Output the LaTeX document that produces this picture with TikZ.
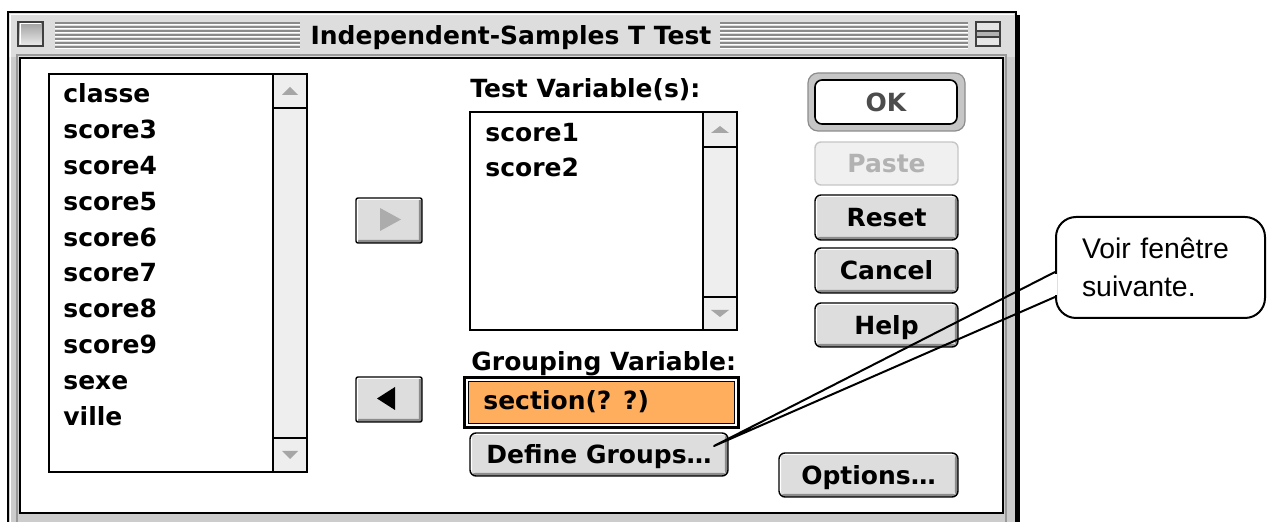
\documentclass[tikz,border=0pt]{standalone}
\usepackage{fontspec}
\newfontfamily\uifamily{DejaVu Sans}
\newfontfamily\notefamily{Liberation Sans}
\usetikzlibrary{calc}
\definecolor{framegray}{HTML}{CCCCCC}
\definecolor{titlegray}{HTML}{DDDDDD}
\definecolor{btngray}{HTML}{DDDDDD}
\definecolor{btnshade}{HTML}{8C8C8C}
\definecolor{scrollgray}{HTML}{EEEEEE}
\definecolor{grouporange}{HTML}{FFAE5E}
\definecolor{stripegray}{HTML}{8A8A8A}
\tikzset{
  bw/.style={minimum width=#1*0.5pt},
  bh/.style={minimum height=#1*0.5pt},
  uifont/.style={font=\uifamily\fontsize{12.5pt}{15pt}\selectfont\bfseries},
  listitem/.style={uifont, anchor=base west, inner sep=0pt},
  listbox/.style={draw=black, line width=0.7pt, fill=white, inner sep=0pt},
  listline/.style={draw=black, line width=0.7pt},
  bevel/.style={path picture={
      \fill[btnshade] ([yshift=1.6pt]path picture bounding box.south west) rectangle (path picture bounding box.south east);
      \fill[btnshade] ([xshift=-1.6pt]path picture bounding box.south east) rectangle (path picture bounding box.north east);
      \fill[white] ([yshift=-1pt]path picture bounding box.north west) rectangle (path picture bounding box.north east);
      \fill[white] ([xshift=1pt]path picture bounding box.north west) rectangle (path picture bounding box.south west);
  }},
  macbtn/.style={draw=black, line width=0.7pt, fill=btngray, rounded corners=3pt, inner sep=0pt,
      uifont, text height=9.1pt, text depth=0pt, bevel},
  arrowbtn/.style={macbtn, rounded corners=1pt},
  notebox/.style={draw=black, line width=1pt, fill=white, rounded corners=10pt, align=left,
      text width=78.5pt, inner xsep=13pt, inner ysep=0pt,
      font=\notefamily\fontsize{14.2pt}{19pt}\selectfont},
  pointer/.style={draw=black, line width=1pt, line join=round},
}
\begin{document}
\begin{tikzpicture}[x=0.5pt,y=-0.5pt]
\useasboundingbox (0,0) rectangle (1268,522);
\clip (0,0) rectangle (1268,522);
\fill[white] (0,0) rectangle (1268,522);

% ---- window frame
\fill[framegray] (8,12) rectangle (1016,540);
\fill[titlegray] (9,13) rectangle (1015,57);
\draw[white, line width=0.6pt] (10.5,540) -- (10.5,14.5) -- (1013.5,14.5);
\draw[gray!80, line width=0.8pt] (17,540) -- (17,55) -- (1006,55) -- (1006,540);
\draw[black, line width=0.75pt] (8,540) -- (8,12) -- (1016,12) -- (1016,540);
\draw[black, line width=1.2pt] (1018.5,15) -- (1018.5,540);
\draw[black, line width=0.75pt, fill=white] (20,58) rectangle (1003,513);

% ---- title bar
\draw[black!75, line width=0.6pt, top color=gray!75, bottom color=gray!15] (18,22) rectangle (43,46);
\draw[white, line width=0.5pt] (20,44) -- (20,24) -- (41,24);
\foreach \yy in {23,27,...,47} {
  \draw[stripegray, line width=0.6pt] (55,\yy) -- (300,\yy);
  \draw[white, line width=0.6pt] (55,\yy+1.5) -- (300,\yy+1.5);
  \draw[stripegray, line width=0.6pt] (720,\yy) -- (968,\yy);
  \draw[white, line width=0.6pt] (720,\yy+1.5) -- (968,\yy+1.5);
}
\draw[black!75, line width=0.6pt, fill=gray!20] (976,22) rectangle (1000,46);
\draw[black!75, line width=0.6pt, fill=gray!60] (976,31) rectangle (1000,37);
\node[uifont, anchor=base, inner sep=0pt] (title) at (511,45) {Independent-Samples T Test};

% ---- source variable list
\node[listbox, bw=258, bh=398] (varlist) at (178,273) {};
\draw[listline, fill=scrollgray] (273,74) rectangle (307,472);
\draw[listline] (273,108) -- (307,108) (273,438) -- (307,438);
\fill[gray!70] (282,95) -- (298,95) -- (290,87) -- cycle;
\fill[gray!70] (282,451) -- (298,451) -- (290,459) -- cycle;
\foreach \t [count=\i from 0] in {classe,score3,score4,score5,score6,score7,score8,score9,sexe,ville}
  \node[listitem] (item\i) at (63,{102.5+35.9*\i}) {\t};

% ---- transfer buttons
\node[arrowbtn, bw=66, bh=45] (moveright) at (389,220.5) {};
\fill[gray!65] (380,208) -- (401,219.5) -- (380,231) -- cycle;
\node[arrowbtn, bw=66, bh=45] (moveleft) at (389,399.5) {};
\fill[black] (395,387) -- (377,398.5) -- (395,410) -- cycle;

% ---- test variables
\node[listitem] (testlabel) at (470,98) {Test Variable(s):};
\node[listbox, bw=267, bh=218] (testlist) at (603.5,221) {};
\draw[listline, fill=scrollgray] (703,112) rectangle (737,330);
\draw[listline] (703,147) -- (737,147) (703,297) -- (737,297);
\fill[gray!70] (711,133) -- (729,133) -- (720,126) -- cycle;
\fill[gray!70] (711,310) -- (729,310) -- (720,317) -- cycle;
\node[listitem] (score1) at (485,141.7) {score1};
\node[listitem] (score2) at (485,176.7) {score2};

% ---- grouping variable
\node[listitem] (grplabel) at (471,370.7) {Grouping Variable:};
\node[draw=black, line width=1.5pt, fill=white, bw=274, bh=50, inner sep=0pt] (grpframe) at (601.5,402.5) {};
\node[draw=black, line width=0.6pt, fill=grouporange, bw=266, bh=42, inner sep=0pt] (grpvar) at (601.5,402.5) {};
\node[listitem] (section) at (483,410) {section(? ?)};
\node[macbtn, bw=258, bh=43] (defgrp) at (599,454.5) {Define Groups…};

% ---- right-hand buttons
\node[draw=black!45, fill=gray!45, line width=0.6pt, rounded corners=5pt, bw=157, bh=58, inner sep=0pt] (okring) at (886.5,102) {};
\node[draw=black, line width=0.8pt, fill=white, rounded corners=3.5pt, bw=142, bh=44, inner sep=0pt,
      uifont, text height=9.1pt, text depth=0pt, text=gray!60!black] (ok) at (886,102) {OK};
\node[draw=gray!45, fill=gray!12, line width=0.7pt, rounded corners=3pt, bw=143, bh=43, inner sep=0pt,
      uifont, text height=9.1pt, text depth=0pt, text=gray!60] (paste) at (886.5,163.5) {Paste};
\node[macbtn, bw=143, bh=45] (reset) at (886.5,217.5) {Reset};
\node[macbtn, bw=143, bh=45] (cancel) at (886.5,270.5) {Cancel};
\node[macbtn, bw=143, bh=44] (help) at (886.5,325) {Help};
\node[macbtn, bw=179, bh=44] (options) at (868.5,475) {Options…};

% ---- callout
\node[notebox, bw=209, bh=101] (note) at (1160.5,267.5) {Voir fenêtre\\suivante.};
\coordinate (tip) at (714,446);
\coordinate (w1) at ($(note.west)+(0,4.5)$);
\coordinate (w2) at ($(note.west)+(0,29.5)$);
\draw[white, line width=1.8pt] ($(w1)+(0,1.8)$) -- ($(w2)+(0,-1.8)$);
\draw[pointer] (w1) -- (tip) -- (w2);
\end{tikzpicture}
\end{document}
